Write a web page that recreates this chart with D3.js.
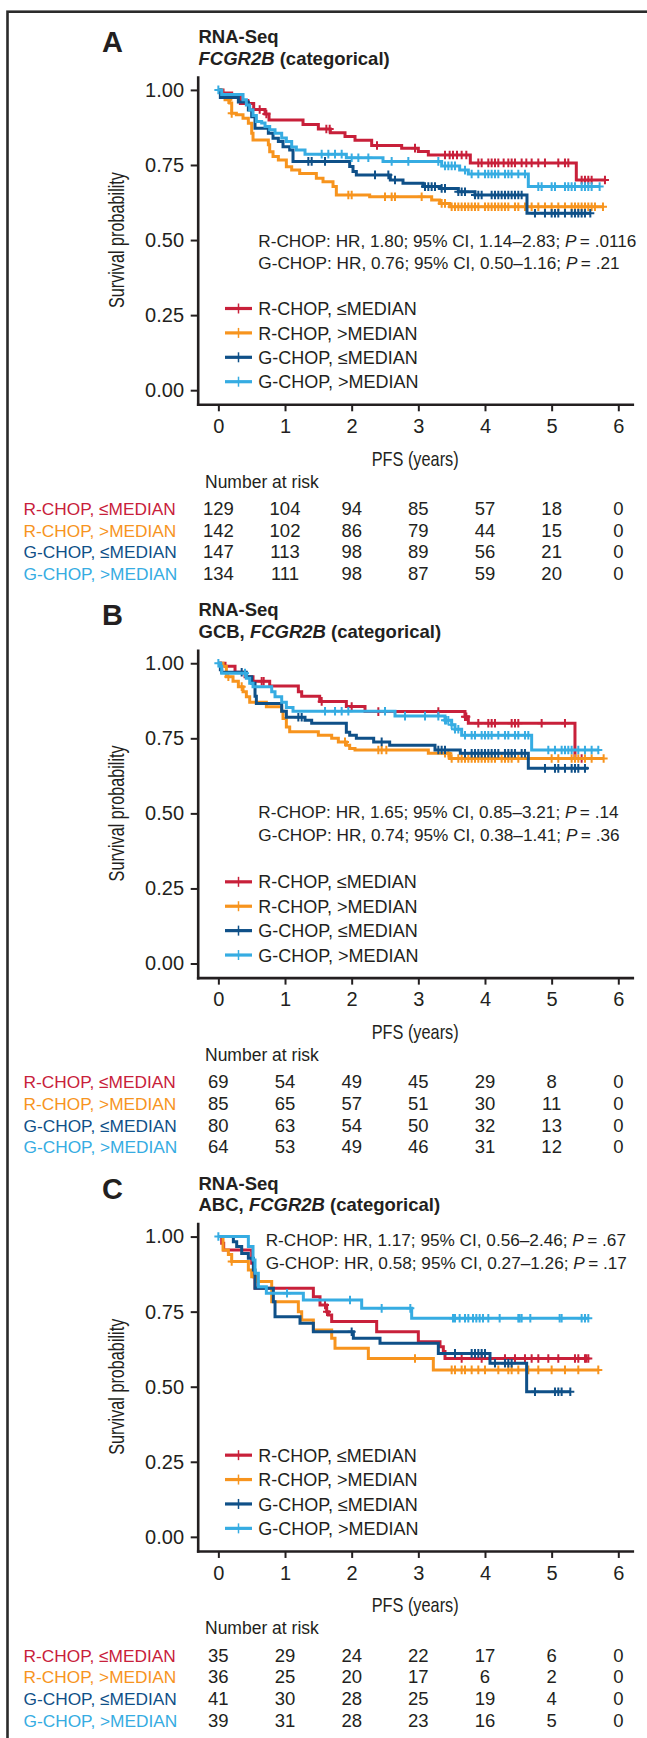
<!DOCTYPE html>
<html><head><meta charset="utf-8">
<script src="https://cdn.jsdelivr.net/npm/d3@7"></script>
<style>body{margin:0;background:#fff}svg{display:block}text{font-family:"Liberation Sans",Arial,Helvetica,sans-serif;fill:#231f20}</style>
</head><body><svg id="c" width="647" height="1738"></svg>
<script>
// ---------- shared ----------
const xTicks = [0, 1, 2, 3, 4, 5, 6];
const yTicks = [0, 0.25, 0.5, 0.75, 1];
const groupNames = ["R-CHOP, \u2264MEDIAN", "R-CHOP, >MEDIAN", "G-CHOP, \u2264MEDIAN", "G-CHOP, >MEDIAN"];
const groupColors = ["#c8203a", "#f7941e", "#0f5088", "#36ace2"];
const riskTimes = [0, 1, 2, 3, 4, 5, 6];

// ---------- panel A: steps [time, survival] (last point = end of follow-up) ----------
const A_RL = [[0,1],[0.07,0.99],[0.2,0.98],[0.33,0.955],[0.53,0.935],[0.7,0.92],[0.76,0.90],[1.27,0.885],[1.5,0.87],[1.68,0.857],[1.9,0.845],[2.05,0.832],[2.3,0.815],[2.75,0.806],[3.0,0.795],[3.15,0.783],[3.78,0.757],[5.37,0.70],[5.8,0.70]];
const A_RL_cens = [0.45,0.62,0.72,1.62,1.67,2.38,2.95,3.4,3.47,3.52,3.58,3.65,3.72,3.9,3.95,4.05,4.1,4.15,4.2,4.28,4.35,4.4,4.45,4.55,4.62,4.7,4.8,4.9,5.1,5.2,5.25,5.45,5.5,5.55,5.6,5.8];
const A_RH = [[0,1],[0.05,0.983],[0.1,0.967],[0.17,0.956],[0.2,0.922],[0.27,0.917],[0.37,0.906],[0.45,0.889],[0.5,0.856],[0.52,0.833],[0.75,0.817],[0.77,0.794],[0.82,0.778],[0.9,0.767],[1.02,0.744],[1.1,0.733],[1.22,0.722],[1.47,0.706],[1.57,0.694],[1.72,0.678],[1.77,0.65],[2.27,0.644],[3.2,0.633],[3.32,0.622],[3.47,0.611],[5.77,0.611]];
const A_RH_cens = [0.15,0.2,1.95,2.0,2.5,2.6,2.65,3.05,3.35,3.4,3.5,3.55,3.6,3.65,3.7,3.75,3.8,3.85,3.9,4.0,4.05,4.1,4.15,4.2,4.25,4.3,4.35,4.45,4.5,4.6,4.7,4.8,4.9,5.0,5.1,5.2,5.3,5.35,5.4,5.45,5.5,5.55,5.6,5.65,5.77];
const A_GL = [[0,1],[0.03,0.975],[0.3,0.96],[0.45,0.933],[0.5,0.911],[0.55,0.872],[0.75,0.856],[0.82,0.839],[0.9,0.828],[0.97,0.811],[1.07,0.8],[1.12,0.762],[1.97,0.745],[2.02,0.728],[2.07,0.717],[2.58,0.70],[2.77,0.689],[3.07,0.678],[3.32,0.672],[3.6,0.661],[3.85,0.65],[4.63,0.589],[5.58,0.589]];
const A_GL_cens = [1.35,1.4,1.6,2.35,2.55,2.65,3.1,3.15,3.2,3.25,3.35,3.4,3.6,3.65,3.7,3.85,3.9,3.95,4.1,4.15,4.2,4.25,4.3,4.35,4.4,4.45,4.5,4.55,4.75,4.9,5.0,5.05,5.1,5.2,5.3,5.35,5.4,5.45,5.5,5.58];
const A_GH = [[0,1],[0.05,0.985],[0.37,0.967],[0.42,0.95],[0.47,0.933],[0.52,0.915],[0.57,0.895],[0.65,0.89],[0.7,0.878],[0.77,0.867],[0.85,0.856],[0.95,0.84],[1.02,0.828],[1.1,0.81],[1.17,0.8],[1.3,0.786],[1.92,0.774],[2.47,0.762],[3.35,0.747],[3.62,0.733],[3.75,0.72],[4.65,0.678],[5.72,0.678]];
const A_GH_cens = [0.0,1.55,1.65,1.75,1.85,2.0,2.1,2.25,2.6,2.85,3.3,3.4,3.45,3.5,3.55,3.7,3.8,3.9,4.0,4.05,4.1,4.15,4.2,4.3,4.35,4.4,4.5,4.6,4.8,4.85,5.0,5.05,5.2,5.25,5.3,5.35,5.45,5.5,5.55,5.6,5.72];
const A_risk_RL = [129, 104, 94, 85, 57, 18, 0];
const A_risk_RH = [142, 102, 86, 79, 44, 15, 0];
const A_risk_GL = [147, 113, 98, 89, 56, 21, 0];
const A_risk_GH = [134, 111, 98, 87, 59, 20, 0];

// ---------- panel B ----------
const B_RL = [[0,1],[0.1,0.99],[0.25,0.97],[0.4,0.955],[0.52,0.94],[0.77,0.924],[1.2,0.905],[1.25,0.89],[1.52,0.873],[1.92,0.856],[2.2,0.839],[3.7,0.822],[3.75,0.80],[5.35,0.683],[5.45,0.683]];
const B_RL_cens = [0.65,0.68,1.55,2.0,2.4,3.3,3.7,3.72,3.9,4.05,4.1,4.15,4.4,4.45,4.5,4.85,5.2,5.45];
const B_RH = [[0,1],[0.07,0.99],[0.12,0.955],[0.22,0.94],[0.3,0.922],[0.37,0.905],[0.42,0.888],[0.47,0.87],[0.72,0.855],[0.95,0.84],[0.97,0.816],[1.02,0.788],[1.07,0.772],[1.5,0.76],[1.7,0.75],[1.8,0.738],[1.92,0.727],[1.97,0.716],[2.05,0.711],[3.15,0.70],[3.47,0.683],[5.78,0.683]];
const B_RH_cens = [0.15,0.35,1.9,2.4,2.45,2.52,3.4,3.45,3.5,3.6,3.65,3.7,3.75,3.8,3.85,3.9,3.95,4.0,4.05,4.1,4.15,4.25,4.3,4.35,4.4,4.5,5.0,5.1,5.3,5.35,5.4,5.5,5.6,5.78];
const B_GL = [[0,1],[0.03,0.978],[0.05,0.97],[0.42,0.955],[0.5,0.933],[0.55,0.89],[0.57,0.866],[0.95,0.84],[1.02,0.82],[1.3,0.81],[1.4,0.80],[1.92,0.77],[1.97,0.76],[2.07,0.75],[2.33,0.738],[2.57,0.727],[3.25,0.711],[3.63,0.70],[4.65,0.65],[5.55,0.65]];
const B_GL_cens = [0.35,1.2,1.25,2.45,3.3,3.35,3.4,3.7,3.8,3.85,3.9,3.95,4.0,4.05,4.1,4.15,4.2,4.3,4.35,4.4,4.45,4.55,4.6,4.9,5.05,5.1,5.2,5.3,5.35,5.4,5.5];
const B_GH = [[0,1],[0.03,0.99],[0.05,0.967],[0.42,0.95],[0.47,0.933],[0.52,0.922],[0.8,0.905],[0.85,0.888],[0.95,0.87],[1.02,0.853],[1.12,0.84],[2.65,0.824],[3.4,0.81],[3.5,0.795],[3.55,0.78],[3.65,0.76],[4.7,0.711],[5.7,0.711]];
const B_GH_cens = [0.0,0.4,1.6,1.75,1.85,1.95,2.5,2.8,3.1,3.3,3.4,3.42,3.45,3.5,3.55,3.6,3.7,3.8,3.85,3.95,4.0,4.05,4.1,4.2,4.3,4.35,4.45,4.5,4.6,4.65,4.95,5.05,5.15,5.2,5.25,5.3,5.4,5.5,5.6,5.7];
const B_risk_RL = [69, 54, 49, 45, 29, 8, 0];
const B_risk_RH = [85, 65, 57, 51, 30, 11, 0];
const B_risk_GL = [80, 63, 54, 50, 32, 13, 0];
const B_risk_GH = [64, 53, 49, 46, 31, 12, 0];

// ---------- panel C ----------
const C_RL = [[0,1],[0.05,0.978],[0.08,0.955],[0.5,0.911],[0.53,0.866],[0.55,0.828],[1.425,0.8],[1.525,0.772],[1.625,0.75],[1.65,0.739],[1.7,0.717],[2.375,0.683],[3.0,0.65],[3.325,0.633],[3.375,0.617],[3.4,0.594],[5.55,0.594]];
const C_RL_cens = [1.6,1.63,3.65,3.95,4.3,4.45,4.6,4.7,4.8,4.95,5.1,5.35,5.4,5.5,5.52,5.55];
const C_RH = [[0,1],[0.07,0.955],[0.15,0.94],[0.2,0.917],[0.45,0.889],[0.5,0.866],[0.57,0.85],[0.8,0.783],[1.2,0.75],[1.25,0.722],[1.425,0.689],[1.7,0.661],[1.75,0.628],[2.25,0.594],[3.225,0.556],[5.7,0.556]];
const C_RH_cens = [0.2,2.95,3.5,3.55,3.65,3.7,3.8,3.9,4.0,4.2,4.35,4.4,4.5,4.65,4.8,5.0,5.2,5.4,5.7];
const C_GL = [[0,1],[0.225,0.983],[0.275,0.967],[0.35,0.944],[0.45,0.928],[0.525,0.889],[0.55,0.828],[0.825,0.783],[0.85,0.733],[1.225,0.711],[1.425,0.683],[2.025,0.661],[2.425,0.645],[3.3,0.611],[4.075,0.578],[4.625,0.483],[5.28,0.483]];
const C_GL_cens = [2.0,3.55,3.8,3.85,3.9,3.95,4.0,4.15,4.3,4.35,4.4,4.75,5.05,5.1,5.15,5.28];
const C_GH = [[0,1],[0.45,0.967],[0.52,0.922],[0.55,0.878],[0.6,0.833],[0.72,0.811],[1.275,0.789],[2.15,0.761],[2.9,0.728],[5.55,0.728]];
const C_GH_cens = [0.0,1.03,1.975,2.45,2.88,3.52,3.55,3.62,3.7,3.75,3.82,3.87,3.92,3.97,4.05,4.22,4.5,4.52,4.55,4.68,5.12,5.15,5.45,5.5,5.55];
const C_risk_RL = [35, 29, 24, 22, 17, 6, 0];
const C_risk_RH = [36, 25, 20, 17, 6, 2, 0];
const C_risk_GL = [41, 30, 28, 25, 19, 4, 0];
const C_risk_GH = [39, 31, 28, 23, 16, 5, 0];

// ---------- text ----------
const panelLabels = ["A", "B", "C"];
const subsetPrefix = ["", "GCB, ", "ABC, "];
const hrLines = [
  [["R-CHOP: HR, 1.80; 95% CI, 1.14\u20132.83; ", ".0116"], ["G-CHOP: HR, 0.76; 95% CI, 0.50\u20131.16; ", ".21"]],
  [["R-CHOP: HR, 1.65; 95% CI, 0.85\u20133.21; ", ".14"], ["G-CHOP: HR, 0.74; 95% CI, 0.38\u20131.41; ", ".36"]],
  [["R-CHOP: HR, 1.17; 95% CI, 0.56\u20132.46; ", ".67"], ["G-CHOP: HR, 0.58; 95% CI, 0.27\u20131.26; ", ".17"]]
];

const panels = [
  {curves:[A_RL,A_RH,A_GL,A_GH], cens:[A_RL_cens,A_RH_cens,A_GL_cens,A_GH_cens], risk:[A_risk_RL,A_risk_RH,A_risk_GL,A_risk_GH]},
  {curves:[B_RL,B_RH,B_GL,B_GH], cens:[B_RL_cens,B_RH_cens,B_GL_cens,B_GH_cens], risk:[B_risk_RL,B_risk_RH,B_risk_GL,B_risk_GH]},
  {curves:[C_RL,C_RH,C_GL,C_GH], cens:[C_RL_cens,C_RH_cens,C_GL_cens,C_GH_cens], risk:[C_risk_RL,C_risk_RH,C_risk_GL,C_risk_GH]}
];

// ---------- layout ----------
const svg = d3.select("#c");
const panelStep = 573.33;
const x = d3.scaleLinear().domain([-0.31, 6.21]).range([197.7, 632.3]);
const y = d3.scaleLinear().domain([-0.047, 1.043]).range([404.3, 77]);
const annPos = [{x:258.3, y:246.7}, {x:258.3, y:245}, {x:265.7, y:99.5}];

svg.append("rect").attr("x", 7.5).attr("y", 11.7).attr("width", 720).attr("height", 1800)
  .attr("fill", "none").attr("stroke", "#2b2b2b").attr("stroke-width", 2.6);

const line = d3.line().x(d => x(d[0])).y(d => y(d[1])).curve(d3.curveStepAfter);
function survAt(steps, t) {
  let s = steps[0][1];
  for (const p of steps) { if (p[0] <= t + 1e-9) s = p[1]; else break; }
  return s;
}

panels.forEach((p, pi) => {
  const g = svg.append("g").attr("transform", `translate(0,${pi * panelStep})`);

  // panel letter & title
  g.append("text").attr("x", 102).attr("y", 52).attr("font-size", 29).attr("font-weight", "bold").text(panelLabels[pi]);
  g.append("text").attr("x", 198.5).attr("y", 43).attr("font-size", 18.5).attr("font-weight", "bold").text("RNA-Seq");
  const t2 = g.append("text").attr("x", 198.5).attr("y", 64.5).attr("font-size", 18.5).attr("font-weight", "bold");
  if (subsetPrefix[pi]) t2.append("tspan").text(subsetPrefix[pi]);
  t2.append("tspan").attr("font-style", "italic").text("FCGR2B");
  t2.append("tspan").text(" (categorical)");

  // axes
  const ya = g.append("g").attr("transform", `translate(${x.range()[0]},0)`)
    .call(d3.axisLeft(y).tickValues(yTicks).tickFormat(d3.format(".2f")).tickSize(7).tickSizeOuter(0).tickPadding(6.7));
  const xa = g.append("g").attr("transform", `translate(0,${y.range()[0]})`)
    .call(d3.axisBottom(x).tickValues(xTicks).tickFormat(d3.format("d")).tickSize(7).tickSizeOuter(0).tickPadding(7.5));
  [ya, xa].forEach(a => {
    a.select(".domain").attr("stroke", "#231f20").attr("stroke-width", 2.6).attr("stroke-linecap", "square");
    a.selectAll(".tick line").attr("stroke", "#231f20").attr("stroke-width", 2);
    a.selectAll(".tick text").attr("font-size", 20).attr("fill", "#231f20").style("font-family", '"Liberation Sans",Arial,sans-serif');
  });

  // y label
  g.append("text").attr("transform", `translate(123.5,${y(0.5)}) rotate(-90)`)
    .attr("text-anchor", "middle").attr("font-size", 22).attr("textLength", 136).attr("lengthAdjust", "spacingAndGlyphs")
    .text("Survival probability");
  // x label
  g.append("text").attr("x", 371.7).attr("y", 465.5).attr("font-size", 21)
    .attr("textLength", 87).attr("lengthAdjust", "spacingAndGlyphs").text("PFS (years)");

  // curves
  p.curves.forEach((steps, k) => {
    g.append("path").attr("d", line(steps)).attr("fill", "none")
      .attr("stroke", groupColors[k]).attr("stroke-width", 3).attr("stroke-linejoin", "miter");
    const cg = g.append("g");
    p.cens[k].forEach(t => {
      const cx = x(t), cy = y(survAt(steps, t));
      cg.append("path").attr("d", `M${cx},${cy - 4.3}V${cy + 4.3}M${cx - 4},${cy}H${cx + 4}`)
        .attr("stroke", groupColors[k]).attr("stroke-width", 2).attr("fill", "none");
    });
  });

  // HR annotation
  hrLines[pi].forEach((ln, li) => {
    const t = g.append("text").attr("x", annPos[pi].x).attr("y", annPos[pi].y + li * 22.6).attr("font-size", 17.2);
    t.append("tspan").text(ln[0]);
    t.append("tspan").attr("font-style", "italic").text("P");
    t.append("tspan").text("\u2009= " + ln[1]);
  });

  // legend
  groupNames.forEach((nm, k) => {
    const cy = 308.5 + k * 24.4;
    g.append("line").attr("x1", 225).attr("x2", 252).attr("y1", cy).attr("y2", cy)
      .attr("stroke", groupColors[k]).attr("stroke-width", 3.2);
    g.append("line").attr("x1", 238.5).attr("x2", 238.5).attr("y1", cy - 5).attr("y2", cy + 5)
      .attr("stroke", groupColors[k]).attr("stroke-width", 1.5);
    g.append("text").attr("x", 258.3).attr("y", cy + 6.6).attr("font-size", 18).text(nm);
  });

  // number at risk
  g.append("text").attr("x", 205).attr("y", 487.7).attr("font-size", 17.5).text("Number at risk");
  p.risk.forEach((row, k) => {
    const by = 515 + k * 21.7;
    g.append("text").attr("x", 23.5).attr("y", by).attr("font-size", 17.3)
      .style("fill", groupColors[k]).text(groupNames[k]);
    row.forEach((v, j) => {
      g.append("text").attr("x", x(riskTimes[j])).attr("y", by).attr("font-size", 18.5)
        .attr("text-anchor", "middle").text(v);
    });
  });
});
</script></body></html>
